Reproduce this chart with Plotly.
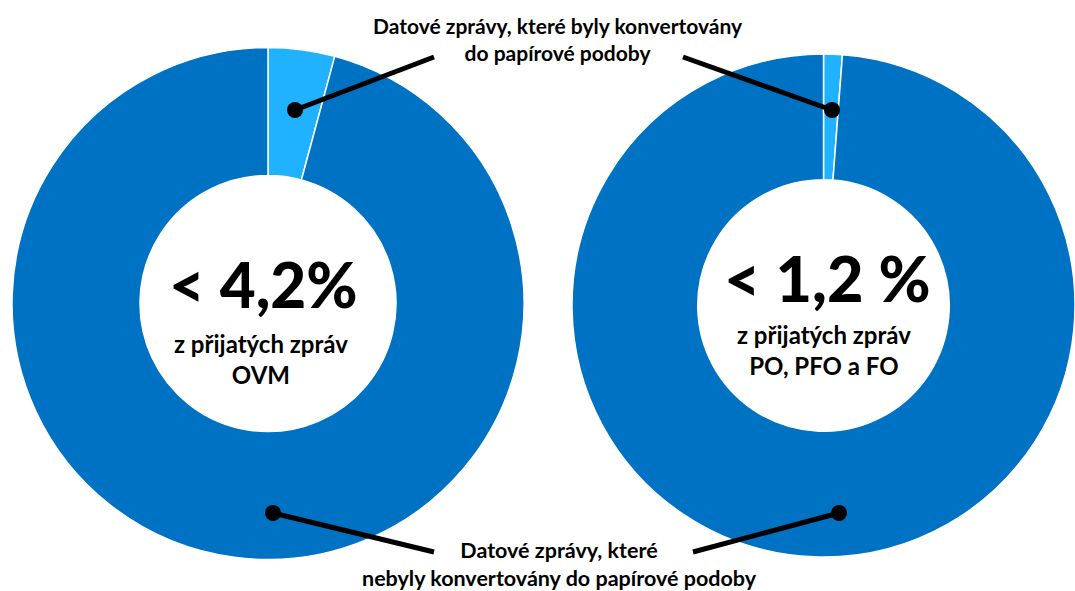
import plotly.graph_objects as go

W, H = 1075, 591

# ---- data ----
categories = [
    "Datové zprávy, které byly konvertovány do papírové podoby",
    "Datové zprávy, které nebyly konvertovány do papírové podoby",
]
ovm_values = [4.2, 95.8]
po_values = [1.2, 98.8]
ovm_center_big = "< 4,2%"
ovm_center_small = "z přijatých zpráv<br>OVM"
po_center_big = "< 1,2 %"
po_center_small = "z přijatých zpráv<br>PO, PFO a FO"
top_label = "Datové zprávy, které byly konvertovány<br>do papírové podoby"
bottom_label = "Datové zprávy, které<br>nebyly konvertovány do papírové podoby"

DARK = "#0072C4"
LIGHT = "#20B2FF"
FONT = "Lato, sans-serif"


def px(x):
    return x / W


def py(y):
    return 1 - y / H


fig = go.Figure()

# left donut: centre (268, 303.5), radius 256
fig.add_trace(go.Pie(
    labels=categories, values=ovm_values, hole=0.5, sort=False,
    direction="clockwise", rotation=0, textinfo="none", hoverinfo="label+percent",
    marker=dict(colors=[LIGHT, DARK], line=dict(color="white", width=1.5)),
    domain=dict(x=[px(12), px(524)], y=[py(559.5), py(47.5)]),
    showlegend=False,
))
# right donut
fig.add_trace(go.Pie(
    labels=categories, values=po_values, hole=0.5, sort=False,
    direction="clockwise", rotation=0, textinfo="none", hoverinfo="label+percent",
    marker=dict(colors=[LIGHT, DARK], line=dict(color="white", width=1.5)),
    domain=dict(x=[px(572), 1.0], y=[py(558), py(53)]),
    showlegend=False,
))

ann = []
# centre texts
ann.append(dict(x=px(263), y=py(284), text=ovm_center_big, showarrow=False,
                font=dict(family=FONT, size=62, color="black", weight=900),
                xanchor="center", yanchor="middle"))
ann.append(dict(x=px(261), y=py(359), text=f"<b>{ovm_center_small}</b>", showarrow=False,
                font=dict(family=FONT, size=24, color="black"), xanchor="center", yanchor="middle",
                align="center"))
ann.append(dict(x=px(827), y=py(277), text=po_center_big, showarrow=False,
                font=dict(family=FONT, size=63, color="black", weight=900),
                xanchor="center", yanchor="middle"))
ann.append(dict(x=px(824), y=py(350), text=f"<b>{po_center_small}</b>", showarrow=False,
                font=dict(family=FONT, size=24, color="black"), xanchor="center", yanchor="middle",
                align="center"))
# callout labels
ann.append(dict(x=px(558), y=py(39), text=f"<b>{top_label}</b>", showarrow=False,
                font=dict(family=FONT, size=21, color="black"), xanchor="center", yanchor="middle",
                align="center"))
ann.append(dict(x=px(559), y=py(564), text=f"<b>{bottom_label}</b>", showarrow=False,
                font=dict(family=FONT, size=21.5, color="black"), xanchor="center", yanchor="middle",
                align="center"))

shapes = []
callouts = [
    ((434, 57), (295, 110)),
    ((683, 57), (832, 110)),
    ((434, 552), (273, 513)),
    ((693, 552), (839, 513)),
]
for (x0, y0), (x1, y1) in callouts:
    shapes.append(dict(type="line", xref="paper", yref="paper",
                       x0=px(x0), y0=py(y0), x1=px(x1), y1=py(y1),
                       line=dict(color="black", width=5)))
    shapes.append(dict(type="circle", xref="paper", yref="paper",
                       xsizemode="pixel", ysizemode="pixel",
                       xanchor=px(x1), yanchor=py(y1),
                       x0=-8, x1=8, y0=-8, y1=8,
                       fillcolor="black", line=dict(color="black", width=0)))

fig.update_layout(
    width=W, height=H,
    margin=dict(l=0, r=0, t=0, b=0),
    paper_bgcolor="white", plot_bgcolor="white",
    annotations=ann, shapes=shapes,
    font=dict(family=FONT),
)

fig.write_html("out.html")
